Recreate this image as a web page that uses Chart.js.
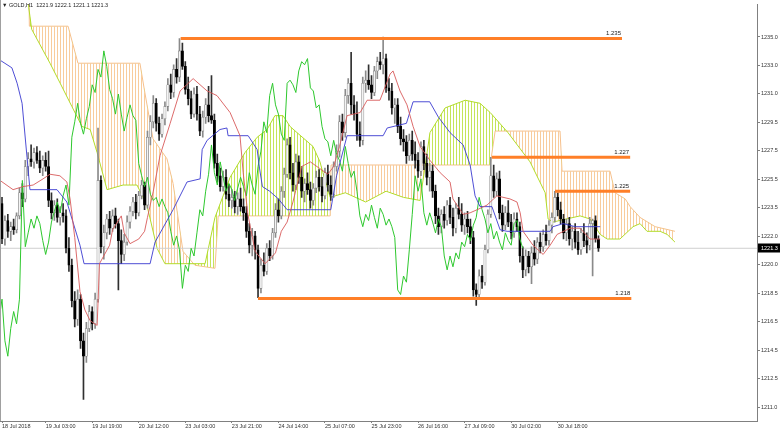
<!DOCTYPE html>
<html><head><meta charset="utf-8">
<script src="https://cdn.jsdelivr.net/npm/chart.js@4"></script>
<style>html,body{margin:0;padding:0;background:#fff;overflow:hidden}</style>
</head><body>
<canvas id="c" width="780" height="431"></canvas>
<script>
// ---- data (H1 bars, index 0 = leftmost bar) ----
const opens = [1224.2,1221.9,1223.1,1222.4,1222.7,1222.5,1223.4,1224.9,1224.5,1226.6,1227.1,1226.9,1227.5,1227.0,1226.5,1227.0,1226.6,1224.4,1223.6,1224.1,1223.3,1223.6,1223.4,1221.3,1220.2,1217.9,1216.7,1218.0,1215.3,1214.3,1216.1,1217.2,1216.4,1218.0,1225.7,1221.4,1222.3,1223.2,1222.6,1223.4,1222.9,1221.8,1220.9,1221.7,1223.0,1223.7,1224.3,1223.6,1224.7,1225.4,1224.1,1228.5,1229.5,1230.7,1229.4,1228.7,1229.7,1230.5,1231.9,1231.4,1232.9,1232.4,1234.1,1233.1,1231.6,1231.0,1230.0,1231.3,1230.0,1228.9,1229.8,1230.6,1229.9,1229.6,1226.8,1226.0,1225.3,1225.9,1224.8,1224.4,1224.6,1224.0,1224.5,1224.0,1223.6,1222.4,1221.5,1222.1,1221.2,1218.7,1220.2,1219.8,1221.3,1220.8,1222.3,1223.8,1223.4,1225.0,1226.1,1228.0,1226.2,1225.4,1226.9,1225.9,1225.0,1225.5,1225.1,1224.4,1225.2,1225.9,1225.3,1224.7,1226.2,1225.4,1224.8,1226.6,1227.6,1229.5,1228.8,1231.2,1232.0,1230.6,1230.0,1228.7,1228.3,1232.0,1232.2,1231.9,1231.4,1232.8,1233.4,1233.2,1233.6,1231.7,1231.5,1230.4,1230.6,1229.2,1228.4,1228.2,1227.3,1228.3,1227.4,1227.0,1226.3,1227.9,1226.8,1225.9,1226.3,1225.0,1223.4,1222.7,1223.5,1223.1,1224.1,1223.3,1222.6,1223.9,1223.5,1222.8,1223.2,1222.7,1222.0,1218.6,1218.3,1219.5,1219.1,1221.2,1223.5,1226.0,1225.0,1225.8,1223.6,1222.8,1223.6,1223.0,1222.3,1223.2,1222.7,1220.8,1219.9,1220.8,1220.1,1221.0,1220.6,1221.7,1221.4,1222.2,1221.8,1222.8,1223.3,1224.6,1223.8,1223.2,1222.3,1222.9,1221.9,1222.4,1221.7,1221.2,1222.3,1221.8,1221.5,1222.9,1223.1,1221.9];
const highs = [1224.6,1223.4,1223.5,1223.0,1223.2,1223.6,1225.2,1225.5,1227.0,1227.5,1228.0,1227.8,1227.9,1227.6,1227.3,1227.5,1227.6,1224.9,1224.4,1224.5,1224.0,1224.2,1223.8,1222.0,1220.6,1218.5,1218.6,1218.3,1215.8,1216.5,1217.6,1217.5,1218.4,1229.1,1226.0,1222.8,1223.5,1223.7,1223.8,1223.9,1223.2,1222.5,1222.2,1223.4,1224.0,1224.6,1224.8,1225.0,1225.7,1225.6,1228.9,1229.9,1231.2,1231.0,1229.8,1230.0,1230.8,1232.3,1232.6,1233.2,1233.6,1234.9,1234.6,1233.4,1232.4,1231.5,1231.7,1231.8,1230.5,1230.2,1231.0,1231.8,1232.5,1230.0,1227.4,1226.5,1226.3,1226.4,1225.4,1225.1,1225.0,1224.9,1225.2,1224.5,1224.0,1222.9,1222.6,1222.4,1221.5,1220.6,1221.0,1221.6,1221.8,1222.6,1224.2,1224.5,1225.3,1226.5,1228.4,1228.5,1226.8,1227.4,1227.3,1226.6,1225.8,1226.2,1225.6,1225.5,1226.3,1226.4,1225.9,1226.5,1226.7,1226.0,1226.9,1228.0,1229.9,1230.0,1231.6,1232.3,1234.0,1231.2,1230.8,1229.5,1232.4,1232.8,1233.2,1232.5,1233.1,1233.7,1234.0,1235.0,1233.9,1232.3,1232.0,1231.0,1231.0,1229.8,1229.0,1228.6,1228.7,1228.9,1228.2,1227.5,1228.2,1228.3,1227.4,1226.8,1226.7,1225.4,1223.9,1223.8,1224.0,1224.4,1224.6,1223.9,1224.2,1224.6,1224.2,1223.6,1223.7,1223.2,1222.4,1219.0,1219.9,1220.2,1221.5,1223.8,1227.2,1226.7,1226.2,1226.3,1224.1,1224.0,1224.4,1223.5,1223.6,1223.6,1223.0,1221.4,1221.2,1221.1,1221.4,1221.8,1222.0,1222.3,1222.5,1222.8,1223.1,1223.6,1225.0,1224.9,1224.3,1223.5,1223.2,1223.3,1222.7,1222.9,1222.4,1222.6,1222.9,1222.3,1223.3,1223.2,1223.4,1222.1];
const lows = [1221.6,1221.5,1222.0,1221.8,1222.2,1222.3,1223.2,1224.0,1224.3,1226.0,1226.6,1226.5,1226.8,1226.2,1226.0,1226.3,1224.0,1223.2,1223.1,1223.0,1222.8,1223.0,1221.0,1219.8,1217.5,1216.2,1216.3,1214.8,1211.5,1213.9,1215.9,1216.0,1216.1,1217.8,1221.0,1220.6,1221.9,1222.2,1222.4,1222.6,1218.6,1220.3,1220.5,1221.5,1222.6,1223.4,1223.2,1223.4,1224.5,1223.8,1223.9,1228.0,1229.1,1228.9,1228.3,1228.5,1229.3,1230.2,1231.0,1231.1,1232.0,1232.1,1232.9,1231.3,1230.6,1229.7,1229.8,1229.6,1228.6,1228.5,1229.4,1229.5,1229.4,1226.5,1225.6,1225.0,1225.0,1224.5,1224.0,1223.9,1223.6,1223.5,1223.7,1223.1,1222.0,1221.0,1220.8,1220.6,1218.1,1218.4,1219.5,1219.6,1220.5,1220.6,1222.0,1223.0,1223.2,1224.6,1225.9,1225.8,1225.0,1225.1,1225.5,1224.6,1224.3,1224.8,1223.9,1224.1,1224.9,1225.0,1224.3,1224.5,1225.0,1224.4,1224.6,1226.3,1227.2,1228.3,1228.5,1230.7,1230.0,1229.6,1228.3,1227.9,1228.0,1231.4,1231.6,1231.0,1231.2,1232.3,1232.9,1232.6,1231.4,1230.9,1230.0,1229.4,1228.8,1228.0,1227.6,1226.8,1227.0,1227.0,1226.5,1225.9,1226.0,1226.4,1225.4,1225.0,1224.6,1222.9,1222.2,1222.3,1222.6,1222.8,1222.9,1222.1,1222.3,1223.2,1222.4,1222.2,1222.3,1221.6,1218.2,1217.6,1218.0,1218.7,1218.9,1221.0,1223.3,1224.6,1224.7,1223.2,1222.4,1222.5,1222.7,1221.9,1222.0,1222.4,1220.4,1219.4,1219.5,1219.7,1219.0,1220.2,1220.3,1221.0,1221.1,1221.5,1221.5,1222.3,1223.0,1223.4,1222.9,1221.9,1221.8,1221.5,1221.2,1221.3,1220.9,1220.9,1221.4,1221.0,1221.2,1219.5,1221.7,1221.1];
const closes = [1221.9,1223.1,1222.4,1222.7,1222.5,1223.4,1224.9,1224.5,1226.6,1227.1,1226.9,1227.5,1227.0,1226.5,1227.0,1226.6,1224.4,1223.6,1224.1,1223.3,1223.6,1223.4,1221.3,1220.2,1217.9,1216.7,1218.0,1215.3,1214.3,1216.1,1217.2,1216.4,1218.0,1225.7,1221.4,1222.3,1223.2,1222.6,1223.4,1222.9,1221.8,1220.9,1221.7,1223.0,1223.7,1224.3,1223.6,1224.7,1225.4,1224.1,1228.5,1229.5,1230.7,1229.4,1228.7,1229.7,1230.5,1231.9,1231.4,1232.9,1232.4,1234.1,1233.1,1231.6,1231.0,1230.0,1231.3,1230.0,1228.9,1229.8,1230.6,1229.9,1229.6,1226.8,1226.0,1225.3,1225.9,1224.8,1224.4,1224.6,1224.0,1224.5,1224.0,1223.6,1222.4,1221.5,1222.1,1221.2,1218.7,1220.2,1219.8,1221.3,1220.8,1222.3,1223.8,1223.4,1225.0,1226.1,1228.0,1226.2,1225.4,1226.9,1225.9,1225.0,1225.5,1225.1,1224.4,1225.2,1225.9,1225.3,1224.7,1226.2,1225.4,1224.8,1226.6,1227.6,1229.5,1228.8,1231.2,1232.0,1230.6,1230.0,1228.7,1228.3,1232.0,1232.2,1231.9,1231.4,1232.8,1233.4,1233.2,1233.6,1231.7,1231.5,1230.4,1230.6,1229.2,1228.4,1228.2,1227.3,1228.3,1227.4,1227.0,1226.3,1227.9,1226.8,1225.9,1226.3,1225.0,1223.4,1222.7,1223.5,1223.1,1224.1,1223.3,1222.6,1223.9,1223.5,1222.8,1223.2,1222.7,1222.0,1218.6,1218.3,1219.5,1219.1,1221.2,1223.5,1226.0,1225.0,1225.8,1223.6,1222.8,1223.6,1223.0,1222.3,1223.2,1222.7,1220.8,1219.9,1220.8,1220.1,1221.0,1220.6,1221.7,1221.4,1222.2,1221.8,1222.8,1223.3,1224.6,1223.8,1223.2,1222.3,1222.9,1221.9,1222.4,1221.7,1221.2,1222.3,1221.8,1221.5,1222.9,1223.1,1221.9,1221.3];

// Ichimoku lines: [bar, price]
const tenkan = [[-0.7,1225.7],[3.8,1225.1],[7.2,1225.3],[10.7,1225.4],[14.1,1225.8],[16.5,1226.1],[19.9,1226.0],[22.3,1225.6],[23.4,1224.5],[25,1222.0],[26.8,1218.5],[28.5,1217.3],[30.3,1216.6],[32.7,1216.3],[33.5,1220.3],[37,1221.5],[38,1222.5],[41,1223.4],[42,1222.3],[44,1221.6],[47,1221.9],[49,1222.4],[50,1223.3],[52,1225.0],[54.3,1227.3],[57.8,1229.4],[61.2,1231.5],[65.7,1232.3],[70.5,1231.5],[73.9,1231.2],[78.4,1230.1],[81.8,1228.6],[82.9,1226.2],[84.5,1223.5],[87,1221.1],[90.4,1220.3],[92,1220.6],[94,1221.0],[96,1222.4],[98,1223.0],[100,1224.3],[103,1226.6],[106,1226.9],[109,1226.5],[112,1226.1],[114,1226.6],[116,1227.9],[118.6,1229.9],[123.1,1230.1],[125.5,1230.9],[129.9,1230.9],[133.4,1232.6],[134.4,1232.8],[136.8,1231.5],[139.2,1230.6],[141.3,1229.2],[143.7,1227.9],[147.1,1227.0],[150.6,1226.2],[154,1225.6],[155,1224.5],[158.5,1223.5],[160.9,1223.6],[163.3,1223.8],[166.7,1224.1],[170.1,1224.7],[174.6,1224.5],[177,1224.3],[178.1,1223.6],[179.1,1222.4],[182.5,1221.5],[186,1220.9],[188.4,1221.5],[190.8,1222.2],[195.3,1222.6],[198.7,1222.6],[202.1,1221.9],[205.6,1221.9]];
const kijun = [[-0.7,1233.5],[3.4,1233.0],[5.2,1232.0],[6.9,1230.7],[8.6,1227.2],[9.6,1225.1],[18.9,1225.1],[22.3,1224.3],[26.8,1221.5],[28.2,1220.3],[50.9,1220.3],[52.6,1221.7],[58.8,1223.8],[63.6,1225.6],[68.1,1225.8],[68.8,1227.7],[70.5,1228.3],[74.9,1229.0],[77.3,1229.1],[77.7,1228.6],[84.6,1228.6],[87.7,1227.7],[88.5,1226.5],[89.5,1225.3],[92,1225.0],[95,1224.5],[98,1223.8],[113,1223.8],[115,1226.0],[118.6,1228.6],[131,1228.6],[132.4,1229.1],[139,1229.4],[141.3,1230.8],[147,1230.8],[150,1229.8],[154,1228.8],[158.5,1228.0],[160.9,1226.7],[162.6,1224.7],[164.3,1224.0],[168.4,1224.0],[171.2,1222.5],[173.6,1222.4],[188.4,1222.4],[189.4,1222.7],[192.9,1222.9],[197,1222.7],[205.6,1222.7]];
const senkouA = [[-0.7,1241.0],[8.6,1238.0],[9.2,1236.9],[10.2,1235.5],[16.5,1233.3],[20,1232.0],[24,1230.5],[27.5,1229.2],[30.3,1229.0],[32.7,1227.5],[36.1,1225.1],[41.6,1225.4],[46.4,1225.4],[49.8,1224.1],[53.3,1221.3],[56,1220.3],[69.8,1220.3],[73.2,1223.3],[78.4,1225.9],[83.5,1227.5],[87.7,1228.5],[91.1,1229.0],[93.8,1229.9],[96.6,1229.9],[99,1229.2],[101.4,1228.8],[106.9,1227.9],[109.3,1226.9],[110.3,1226.2],[112.8,1224.6],[118,1224.9],[125,1224.3],[132,1225.0],[138,1224.6],[143.7,1224.4],[147.1,1228.8],[152.3,1230.4],[159.2,1230.9],[164.3,1230.7],[167.8,1230.1],[173.9,1228.8],[181.5,1226.9],[186.7,1224.9],[187.7,1223.2],[189.4,1223.0],[198.7,1223.4],[202.1,1223.2],[205.6,1222.2],[208,1221.9],[212.4,1221.9],[216.9,1222.7],[219.3,1222.9],[221.7,1222.4],[226.2,1222.4],[228.6,1222.2],[231.3,1221.7]];
const senkouB = [[-0.7,1240.0],[9.2,1239.0],[9.4,1235.7],[22.7,1235.7],[26.1,1233.3],[47.4,1233.3],[49,1231.5],[51.9,1228.4],[56.7,1227.1],[58.8,1225.5],[62.2,1221.1],[66.3,1220.2],[73.2,1220.0],[74.3,1223.4],[112.8,1223.4],[113.1,1226.7],[167.8,1226.7],[169.5,1228.9],[191.8,1228.9],[192.5,1226.3],[209,1226.3],[210.7,1224.9],[214.2,1224.5],[215.9,1224.0],[219.3,1223.3],[224.5,1222.7],[231.3,1222.4]];
const chikouShift = 26;

// horizontal levels drawn on the chart
const levelPrices = [1234.9, 1227.2, 1225.0, 1218.05];
const levelStart = [61.4, 168.4, 190.1, 88.0];
const levelEnd = [213.1, 215.9, 215.9, 216.3];
const levelText = ['1.235', '1.227', '1.225', '1.218'];
const bidPrice = 1221.3;
const titleText = 'GOLD,H1  1221.9 1222.1 1221.1 1221.3';

// axis ticks
const dateTicks = [0, 15, 31, 47, 63, 79, 95, 111, 127, 143, 159, 175, 191];
const dateLabels = ['18 Jul 2018','19 Jul 03:00','19 Jul 19:00','20 Jul 12:00','23 Jul 03:00','23 Jul 21:00','24 Jul 14:00','25 Jul 07:00','25 Jul 23:00','26 Jul 16:00','27 Jul 09:00','30 Jul 02:00','30 Jul 18:00'];
const priceLabels = ['1235.0','1233.0','1231.0','1229.5','1227.5','1225.5','1223.5','1222.0','1220.0','1218.5','1216.5','1214.5','1212.5','1211.0'];
const priceTop = 1235.0, priceBottom = 1211.0;

// ---- chart ----
const canvas = document.getElementById('c');
const mainCtx = canvas.getContext('2d');
function hatch(color) {
  const p = document.createElement('canvas'); p.width = 3; p.height = 4;
  const g = p.getContext('2d'); g.fillStyle = color; g.fillRect(0, 0, 1, 4);
  return mainCtx.createPattern(p, 'repeat');
}
const greenHatch = hatch('#c4e45a');
const orangeHatch = hatch('#f8cc9c');
const pts = a => a.map(p => ({x: p[0], y: p[1]}));
const bull = closes.map((c, i) => c >= opens[i]);

const datasets = [
  {type:'line', data: pts(senkouA), borderColor:'#b2dc2a', borderWidth:1, pointRadius:0, order:20,
   fill:{target:1, above: greenHatch, below: orangeHatch}},
  {type:'line', data: pts(senkouB), borderColor:'#f6c08c', borderWidth:1, pointRadius:0, order:21, fill:false},
  {type:'line', data:[{x:-2,y:bidPrice},{x:262,y:bidPrice}], borderColor:'#cfcfcf', borderWidth:1, pointRadius:0, order:15},
  {type:'bar', data: closes.map((c,i)=>({x:i, y:[lows[i], highs[i]]})), backgroundColor: bull.map(b=>b?'#8a8a8a':'#303030'),
   barThickness:1, grouped:false, order:10},
  {type:'bar', data: closes.map((c,i)=>({x:i, y:[opens[i], c]})), backgroundColor: bull.map(b=>b?'#f4f4f4':'#000000'),
   borderColor: bull.map(b=>b?'#7c7c7c':'#000000'), borderWidth:0.6, borderSkipped:false, minBarLength:1,
   barThickness:2.3, grouped:false, order:9},
  {type:'line', data: closes.map((c,i)=>({x:i-chikouShift, y:c})), borderColor:'#2ec82e', borderWidth:1, pointRadius:0, order:4},
  {type:'line', data: pts(tenkan), borderColor:'#d85a5a', borderWidth:0.9, pointRadius:0, order:3},
  {type:'line', data: pts(kijun), borderColor:'#3a3ad0', borderWidth:0.9, pointRadius:0, order:3},
];
levelPrices.forEach((p, k) => datasets.push({type:'line', data:[{x:levelStart[k], y:p},{x:levelEnd[k], y:p}],
  borderColor:'#ff7f27', borderWidth:3, pointRadius:0, order:1}));

const overlay = {
  id:'overlay',
  afterDraw(chart) {
    const {ctx, chartArea:a, scales:{x, y}} = chart;
    ctx.save();
    // left frame line
    ctx.strokeStyle = '#a0a0a0'; ctx.lineWidth = 1;
    ctx.beginPath(); ctx.moveTo(0.5, 0); ctx.lineTo(0.5, a.bottom); ctx.stroke();
    // level labels
    ctx.font = '6px "Liberation Sans"'; ctx.fillStyle = '#1a1a1a'; ctx.textAlign = 'right'; ctx.textBaseline = 'bottom';
    levelPrices.forEach((p, k) => ctx.fillText(levelText[k], x.getPixelForValue(levelEnd[k]) - 1, y.getPixelForValue(p) - 2));
    // title
    ctx.textAlign = 'left'; ctx.textBaseline = 'middle'; ctx.font = '5.5px "Liberation Sans"'; ctx.fillStyle = '#222';
    ctx.fillText('\u25BC', 2, 5);
    ctx.fillText(titleText, 9, 5);
    // bid price box
    const by = Math.round(y.getPixelForValue(bidPrice));
    ctx.fillStyle = '#000'; ctx.fillRect(a.right + 1, by - 4.5, 780 - a.right - 1, 9);
    ctx.fillStyle = '#fff'; ctx.font = '5.5px "Liberation Sans"';
    ctx.fillText(bidPrice.toFixed(1), a.right + 4, by);
    ctx.restore();
  }
};

new Chart(canvas, {
  type:'line',
  data:{datasets},
  plugins:[overlay],
  options:{
    responsive:false, animation:false, devicePixelRatio:1,
    layout:{padding:0},
    plugins:{legend:{display:false}, tooltip:{enabled:false}, title:{display:false}},
    scales:{
      x:{type:'linear', min:-0.69, max:259.5, offset:false,
        grid:{display:true, offset:false, drawOnChartArea:false, drawTicks:true, tickLength:2, color:'#808080'},
        border:{display:true, color:'#808080'},
        ticks:{autoSkip:false, maxRotation:0, align:'start', padding:0, color:'#333',
          font:{size:5.5, family:'Liberation Sans'}, callback:(v,i)=>dateLabels[i]},
        afterBuildTicks:s=>{ s.ticks = dateTicks.map(v=>({value:v})); },
        afterFit:s=>{ s.height = 10; }
      },
      y:{type:'linear', position:'right', min:1210.1, max:1237.12,
        grid:{display:true, drawOnChartArea:false, drawTicks:true, tickLength:3, color:'#808080'},
        border:{display:true, color:'#808080'},
        ticks:{autoSkip:false, padding:1, color:'#333', font:{size:5.5, family:'Liberation Sans'},
          callback:(v,i)=>priceLabels[i]},
        afterBuildTicks:s=>{ const n = priceLabels.length; s.ticks = priceLabels.map((_,k)=>({value: priceTop - k*(priceTop-priceBottom)/(n-1)})); },
        afterFit:s=>{ s.width = 23; }
      }
    }
  }
});
</script>
</body></html>
